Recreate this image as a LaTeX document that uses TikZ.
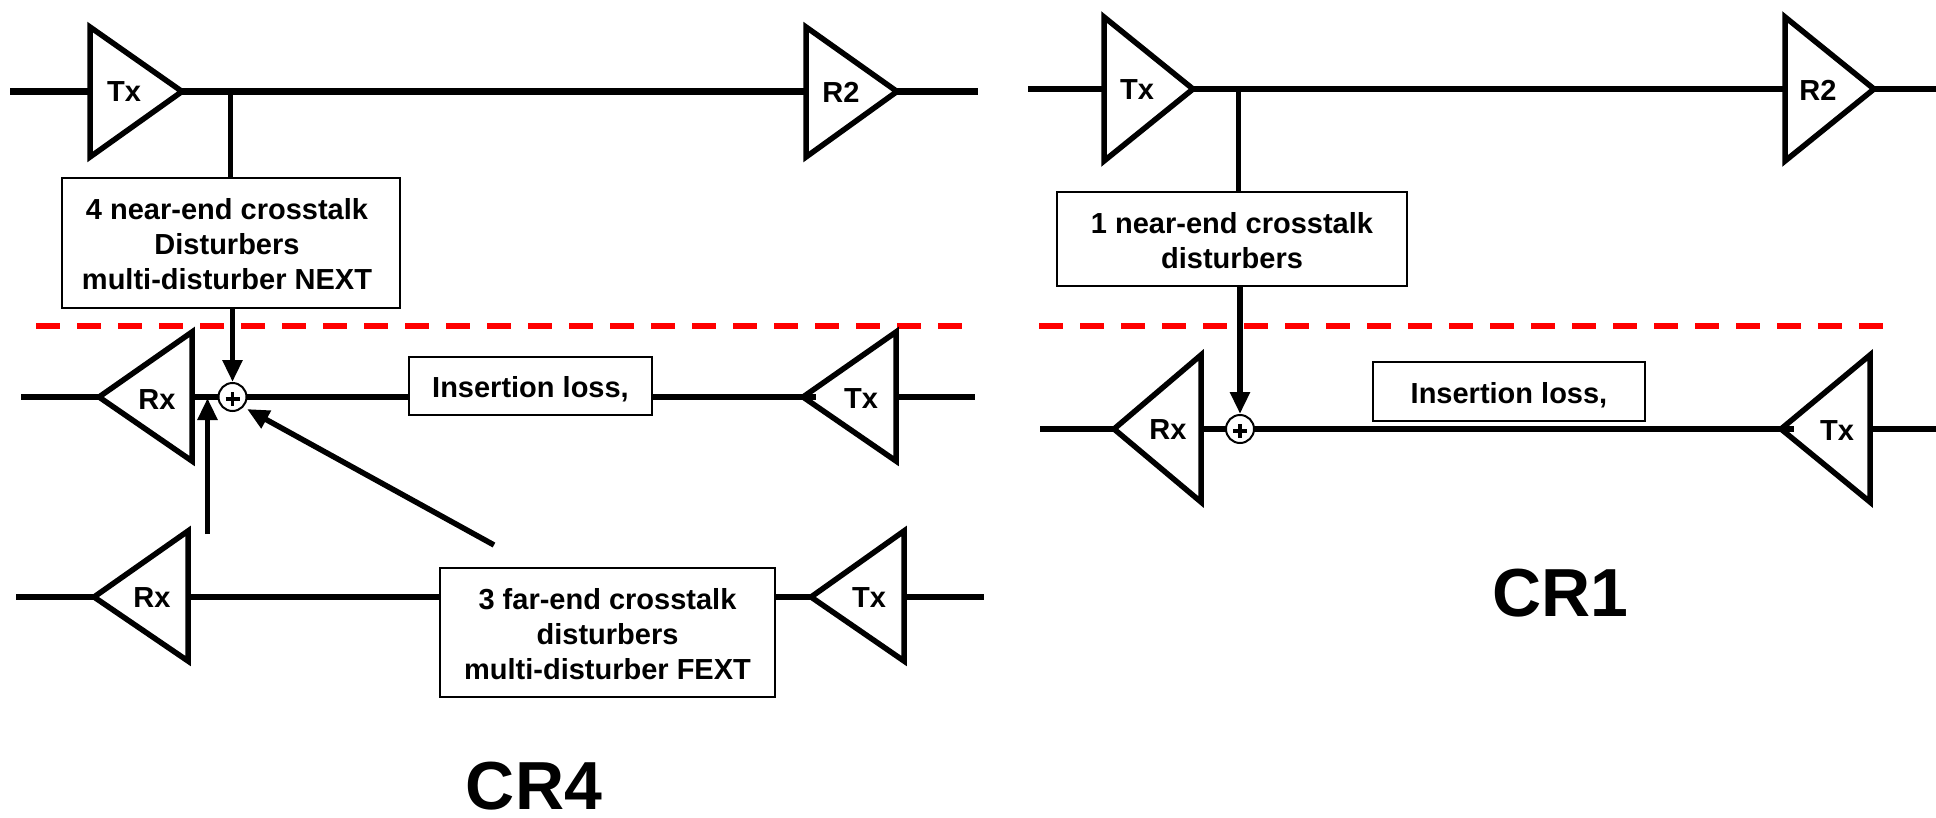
\documentclass[tikz,border=0pt]{standalone}
\usepackage{fontspec}
\setmainfont{Liberation Sans}
\usetikzlibrary{arrows.meta}
\newcommand{\fl}{\rule{0pt}{24pt}}
\newcommand{\nudge}{\hspace*{-8pt}}
\tikzset{
  x=1pt,y=-1pt,
  wire/.style={line width=6.5pt,black},
  amp/.style={line width=5.5pt,black,fill=white,miter limit=10},
  amplabel/.style={font=\bfseries\fontsize{29}{34}\selectfont,inner sep=0pt},
  lossbox/.style={draw=black,line width=2pt,fill=white,inner sep=0pt,align=center,
    font=\bfseries\fontsize{29}{35}\selectfont},
  oneline/.style={text height=23pt,text depth=0pt},
  feed/.style={line width=5pt,black},
  xarrow/.style={line width=5.5pt,black,-{Triangle[length=22pt,width=19pt]}},
  sumnode/.style={circle,draw=black,line width=2pt,fill=white,minimum size=28pt,inner sep=0pt},
  plusbar/.style={line width=3.5pt,black},
  boundary/.style={line width=6pt,red,dash pattern=on 24pt off 17pt},
  title/.style={font=\bfseries\fontsize{68}{68}\selectfont,inner sep=0pt},
}
\begin{document}
\begin{tikzpicture}
\useasboundingbox (0,0) rectangle (1936,817);
\fill[white] (0,0) rectangle (1936,817);

% ---- boundaries
\coordinate (redAa) at (36,326); \coordinate (redAb) at (962,326);
\coordinate (redBa) at (1039,326); \coordinate (redBb) at (1884,326);
\draw[boundary] (redAa) -- (redAb);
\draw[boundary] (redBa) -- (redBb);

% ---- CR4 top
\coordinate (aStart) at (10,91.5); \coordinate (aEnd) at (978,91.5);
\coordinate (aTapA) at (230,91.5);
\draw[wire] (aStart) -- (aEnd);
\draw[amp] (90,27) -- (182,91.5) -- (90,157) -- cycle;
\draw[amp] (806,27) -- (897,91.5) -- (806,157) -- cycle;
\node[amplabel] (aTx) at (124,92) {Tx};
\node[amplabel] (aR2) at (841,92) {R2};

% ---- CR4 row 2
\coordinate (bStart) at (21,397); \coordinate (bEnd) at (975,397);
\draw[wire] (bStart) -- (bEnd);
\draw[amp] (192,332) -- (99,397) -- (192,461) -- cycle;
\draw[amp] (896,332) -- (803,397) -- (896,461) -- cycle;
\coordinate (bNibA) at (803,397); \coordinate (bNibB) at (816,397);
\draw[wire] (bNibA) -- (bNibB);
\node[amplabel] (bRx) at (157,399.5) {Rx};
\node[amplabel] (bTx) at (861,399) {Tx};
\node[lossbox,oneline,minimum width=243pt,minimum height=58pt] (bLoss) at (530.5,386) {Insertion loss,};
\node[sumnode] (bSum) at (232.5,397) {};
\draw[plusbar] ([xshift=-7pt,yshift=-2pt]bSum.center) -- ([xshift=7pt,yshift=-2pt]bSum.center);
\draw[plusbar] ([yshift=5pt]bSum.center) -- ([yshift=-9pt]bSum.center);

% ---- CR4 row 3
\coordinate (cStart) at (16,597); \coordinate (cEnd) at (984,597);
\draw[wire] (cStart) -- (cEnd);
\draw[amp] (188,531) -- (94,597) -- (188,661) -- cycle;
\draw[amp] (904,531) -- (811,597) -- (904,661) -- cycle;
\node[amplabel] (cRx) at (152,598) {Rx};
\node[amplabel] (cTx) at (869,598) {Tx};
\node[lossbox,minimum width=335pt,minimum height=129pt] (cBox) at (607.5,632.5)
  {\fl 3 far-end crosstalk\\disturbers\\multi-disturber FEXT};

% ---- CR4 NEXT box and arrows
\node[lossbox,minimum width=338pt,minimum height=130pt] (aBox) at (231,243)
  {\fl\nudge 4 near-end crosstalk\\\nudge Disturbers\\\nudge multi-disturber NEXT};
\draw[feed] (aTapA) -- (aTapA |- aBox.north);
\draw[xarrow] (aBox.south -| bSum) -- (bSum.north);
\coordinate (upStart) at (207.5,534); \coordinate (upEnd) at (207.5,398);
\draw[xarrow] (upStart) -- (upEnd);
\coordinate (diagStart) at (494,545); \coordinate (diagEnd) at (247,409);
\draw[xarrow] (diagStart) -- (diagEnd);

\node[title] (crFour) at (534,786) {CR4};

% ---- CR1 top
\coordinate (dStart) at (1028,89); \coordinate (dEnd) at (1936,89);
\coordinate (dTap) at (1238,89);
\draw[wire] (dStart) -- (dEnd);
\draw[amp] (1104,17) -- (1193,89) -- (1104,161) -- cycle;
\draw[amp] (1785,17) -- (1874,89) -- (1785,161) -- cycle;
\node[amplabel] (dTx) at (1137,90) {Tx};
\node[amplabel] (dR2) at (1818,90) {R2};

% ---- CR1 row 2
\coordinate (eStart) at (1040,429); \coordinate (eEnd) at (1936,429);
\draw[wire] (eStart) -- (eEnd);
\draw[amp] (1201,355) -- (1114,429) -- (1201,502) -- cycle;
\draw[amp] (1870,355) -- (1781,429) -- (1870,502) -- cycle;
\coordinate (eNibA) at (1781,429); \coordinate (eNibB) at (1794,429);
\draw[wire] (eNibA) -- (eNibB);
\node[amplabel] (eRx) at (1168,429.5) {Rx};
\node[amplabel] (eTx) at (1837,431) {Tx};
\node[lossbox,oneline,minimum width=272pt,minimum height=59pt] (eLoss) at (1509,391.5) {Insertion loss,};
\node[sumnode] (eSum) at (1240,429) {};
\draw[plusbar] ([xshift=-7pt,yshift=-2pt]eSum.center) -- ([xshift=7pt,yshift=-2pt]eSum.center);
\draw[plusbar] ([yshift=5pt]eSum.center) -- ([yshift=-9pt]eSum.center);

\node[lossbox,minimum width=350pt,minimum height=94pt] (dBox) at (1232,239)
  {\fl 1 near-end crosstalk\\disturbers};
\draw[feed] (dTap) -- (dTap |- dBox.north);
\draw[xarrow] (dBox.south -| eSum) -- (eSum.north);

\node[title] (crOne) at (1560,593) {CR1};
\end{tikzpicture}
\end{document}
